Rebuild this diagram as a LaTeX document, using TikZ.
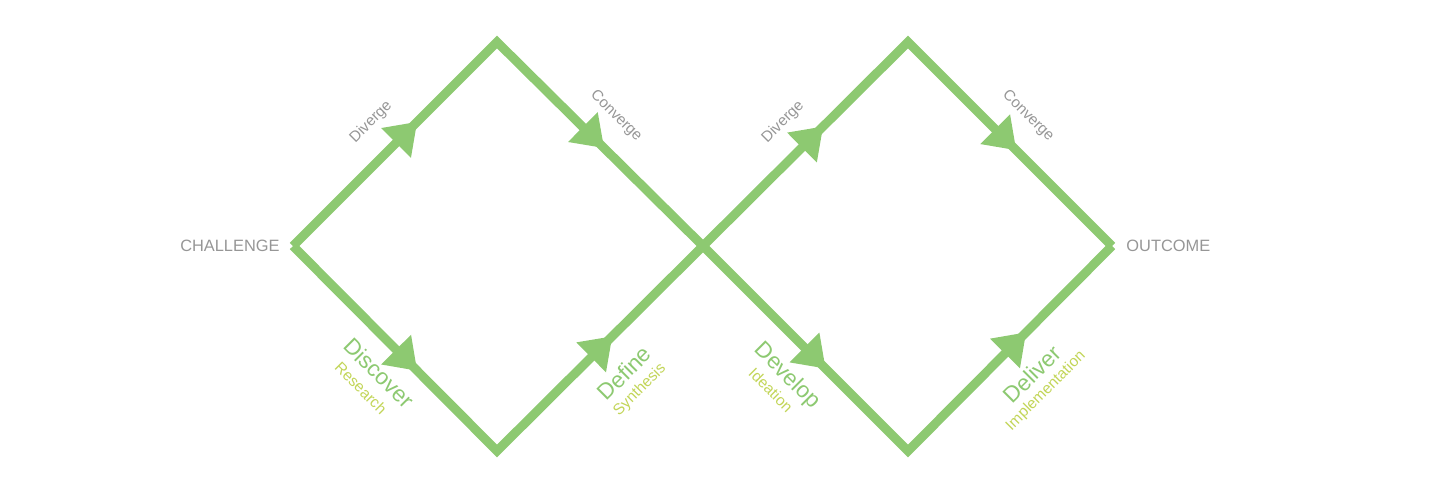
\documentclass[tikz,border=0pt]{standalone}
\usepackage{fontspec}
\setmainfont{Liberation Sans}
\usetikzlibrary{arrows.meta,decorations.markings}

\definecolor{dgreen}{RGB}{141,201,113}
\definecolor{dlime}{RGB}{194,213,88}
\definecolor{dgray}{RGB}{150,150,150}

\tikzset{
  flowhead/.tip={Triangle[length=15pt,width=20pt]},
  flow/.style n args={4}{
    draw=dgreen, color=dgreen, line width=4.5pt, line join=miter,
    postaction=decorate,
    decoration={markings,
      mark=at position #1 with {\arrow{flowhead}},
      mark=at position #2 with {\arrow{flowhead}},
      mark=at position #3 with {\arrow{flowhead}},
      mark=at position #4 with {\arrow{flowhead}}}
  },
  endlabel/.style={text=dgray, inner sep=0pt, font=\fontsize{8.2}{9}\selectfont},
  dirlabel/.style={text=dgray, inner sep=0pt, font=\fontsize{7.6}{8}\selectfont},
  phase/.style={text=dgreen, inner sep=0pt, font=\fontsize{11.3}{12}\selectfont},
  activity/.style={text=dlime, inner sep=0pt, font=\fontsize{7.7}{8}\selectfont}
}

\begin{document}
\begin{tikzpicture}[x=0.5pt, y=0.5pt]

    \useasboundingbox (0,0) rectangle (1440,500);

    % corners of the double diamond
    \coordinate (challenge) at (293,254);
    \coordinate (top1) at (497,458);
    \coordinate (bottom1) at (497,49);
    \coordinate (middle) at (703,254);
    \coordinate (top2) at (908,458);
    \coordinate (bottom2) at (908,49);
    \coordinate (outcome) at (1112,254);

    \path[flow={0.152}{0.38}{0.647}{0.883}]
      (challenge) -- (top1) -- (middle) -- (top2) -- (outcome);
    \path[flow={0.152}{0.39}{0.65}{0.895}]
      (challenge) -- (bottom1) -- (middle) -- (bottom2) -- (outcome);

    \node[endlabel, anchor=east] (challengetext) at (280,254) {CHALLENGE};
    \node[endlabel, anchor=west] (outcometext) at (1126,254) {OUTCOME};

    \node[dirlabel, rotate=45] (diverge1) at (371,378) {Diverge};
    \node[dirlabel, rotate=-45] (converge1) at (616,384) {Converge};
    \node[dirlabel, rotate=45] (diverge2) at (783,378) {Diverge};
    \node[dirlabel, rotate=-45] (converge2) at (1028,384) {Converge};

    \node[phase, rotate=-45] (discover) at (379,127) {Discover};
    \node[activity, rotate=-45] (research) at (361,112) {Research};
    \node[phase, rotate=45] (define) at (624,127) {Define};
    \node[activity, rotate=45] (synthesis) at (640,110) {Synthesis};
    \node[phase, rotate=-45] (develop) at (787,124) {Develop};
    \node[activity, rotate=-45] (ideation) at (771,110) {Ideation};
    \node[phase, rotate=45] (deliver) at (1032,126) {Deliver};
    \node[activity, rotate=45] (implementation) at (1046,109) {Implementation};

\end{tikzpicture}
\end{document}
